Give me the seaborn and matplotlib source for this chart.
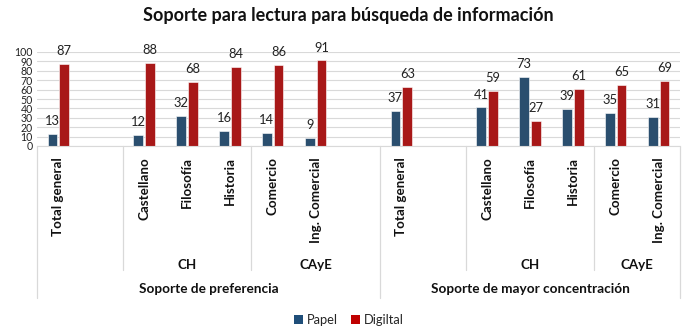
import matplotlib
matplotlib.use("Agg")
import matplotlib.pyplot as plt
import matplotlib.transforms as mtransforms
from matplotlib.patches import Patch
import seaborn as sns
import pandas as pd

# ---- data ----
grupos = ["Soporte de preferencia", "Soporte de mayor concentración"]
subgrupos = ["CH", "CAyE"]
categorias = ["Total general", "Castellano", "Filosofía", "Historia", "Comercio", "Ing. Comercial"]
subgrupo_de = ["", "CH", "CH", "CH", "CAyE", "CAyE"]
papel_pref = [13, 12, 32, 16, 14, 9]
digital_pref = [87, 88, 68, 84, 86, 91]
papel_conc = [37, 41, 73, 39, 35, 31]
digital_conc = [63, 59, 27, 61, 65, 69]
series = ["Papel", "Digiltal"]
colores = ["#1F4E79", "#C00000"]
yticks = list(range(0, 101, 10))

sns.set_theme(style="white")
plt.rcParams["font.family"] = ["Lato", "DejaVu Sans"]

# slot layout (Excel multi-level axis with blank slots)
slots = []
labels = []
slot_group = []
for gi, g in enumerate(grupos):
    prefix = f"g{gi}_"
    for ci, c in enumerate(categorias):
        slots.append(prefix + c)
        labels.append(c)
        slot_group.append((gi, subgrupo_de[ci]))
        if ci == 0:
            slots.append(prefix + "blank_a")
            labels.append("")
            slot_group.append((gi, ""))
    if gi == 0:
        slots.append(prefix + "blank_b")
        labels.append("")
        slot_group.append((gi, "CAyE"))

rows = []
for gi, (pv, dv) in enumerate([(papel_pref, digital_pref), (papel_conc, digital_conc)]):
    for c, p, d in zip(categorias, pv, dv):
        rows.append({"slot": f"g{gi}_" + c, "serie": series[0], "valor": p})
        rows.append({"slot": f"g{gi}_" + c, "serie": series[1], "valor": d})
df = pd.DataFrame(rows)

fig = plt.figure(figsize=(6.93, 3.36), dpi=100)
ax = fig.add_axes([37 / 693, 1 - 146 / 336, 643 / 693, 94 / 336])

sns.barplot(data=df, x="slot", y="valor", hue="serie", order=slots,
            hue_order=series, palette=colores, width=0.55, gap=0.18,
            edgecolor="white", linewidth=0.4, ax=ax, legend=False)

ax.set_xlim(-0.5, len(slots) - 0.5)
ax.set_ylim(0, 100)
ax.set_yticks(yticks)
ax.set_yticklabels([str(t) for t in yticks], fontsize=7.6, color="#222222")
ax.tick_params(axis="y", length=0, pad=3)
ax.yaxis.grid(True, color="#D9D9D9", linewidth=0.8)
ax.set_axisbelow(True)
for s in ["top", "right", "left"]:
    ax.spines[s].set_visible(False)
ax.spines["bottom"].set_color("#D9D9D9")
ax.spines["bottom"].set_linewidth(0.8)
ax.set_xlabel("")
ax.set_ylabel("")

ax.set_xticks(range(len(slots)))
ax.set_xticklabels(labels, rotation=90, fontsize=9.6, fontweight="bold",
                   color="#111111", va="top")
ax.tick_params(axis="x", length=0, pad=8)

# data labels
for cont in ax.containers:
    ax.bar_label(cont, fmt="%d", padding=5, fontsize=9.3, color="#222222", clip_on=False)

# multi-level axis separators and labels
trans = mtransforms.blended_transform_factory(ax.transData, ax.transAxes)
ax_h = 94.0
def yfrac(py):
    return -(py - 146) / ax_h

line_kw = dict(color="#D9D9D9", linewidth=0.9, transform=trans, clip_on=False)
n = len(slots)
g_bounds = [-0.5]
for i in range(1, n):
    if slot_group[i][0] != slot_group[i - 1][0]:
        g_bounds.append(i - 0.5)
g_bounds.append(n - 0.5)
for b in g_bounds:
    ax.plot([b, b], [0, yfrac(298)], **line_kw)
inner = []
for i in range(1, n):
    if slot_group[i][0] == slot_group[i - 1][0] and slot_group[i][1] != slot_group[i - 1][1]:
        inner.append(i - 0.5)
for b in inner:
    ax.plot([b, b], [0, yfrac(270)], **line_kw)

# level-2 labels
i = 0
while i < n:
    j = i
    while j + 1 < n and slot_group[j + 1] == slot_group[i]:
        j += 1
    if slot_group[i][1]:
        ax.text((i + j) / 2, yfrac(265), slot_group[i][1], transform=trans,
                ha="center", va="center", fontsize=9.6, fontweight="bold", color="#111111")
    i = j + 1

# level-1 labels
for gi, g in enumerate(grupos):
    idx = [k for k in range(n) if slot_group[k][0] == gi]
    ax.text((idx[0] + idx[-1]) / 2, yfrac(289), g, transform=trans,
            ha="center", va="center", fontsize=9.8, fontweight="bold", color="#111111")

fig.suptitle("Soporte para lectura para búsqueda de información", x=0.503, y=1 - 16 / 336,
             fontsize=13, fontweight="bold", color="#111111", va="center")

handles = [Patch(facecolor=c, edgecolor="none") for c in colores]
fig.legend(handles, series, loc="center", bbox_to_anchor=(0.503, 1 - 320 / 336), ncol=2,
           frameon=False, fontsize=9.3, handlelength=0.7, handleheight=0.7,
           handletextpad=0.3, columnspacing=1.0)

fig.savefig("out.png", dpi=100)
